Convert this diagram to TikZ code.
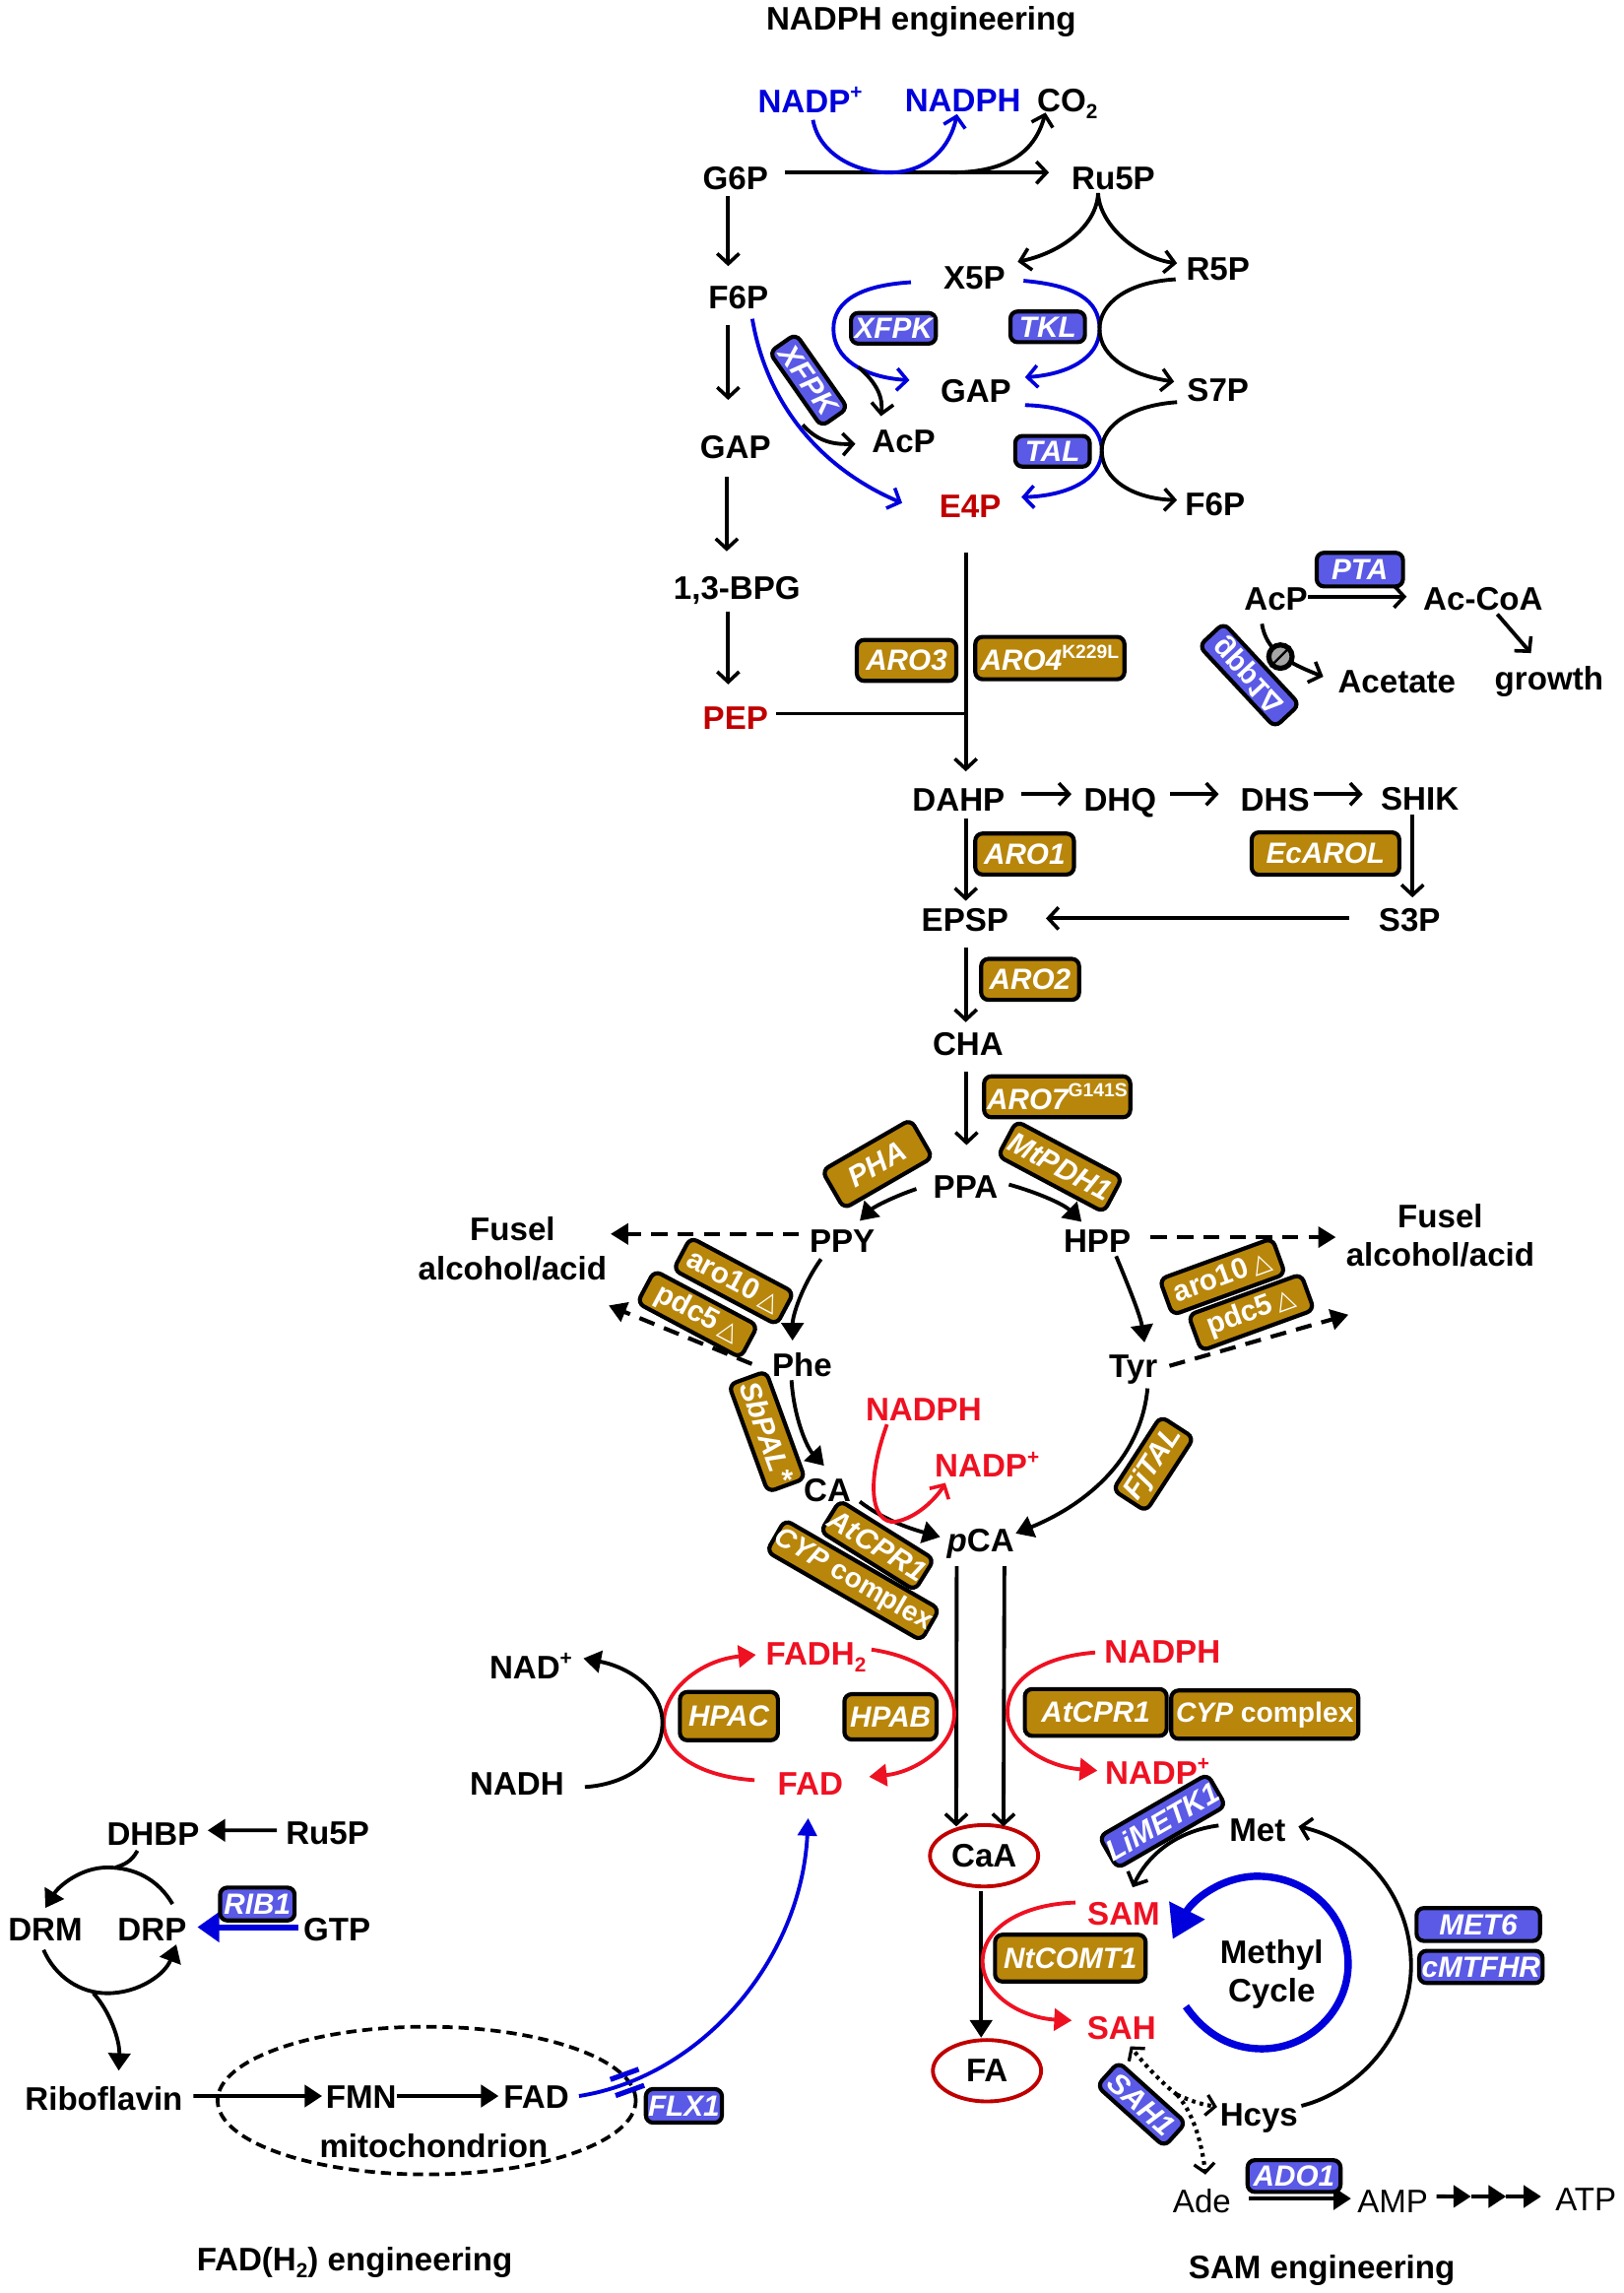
\documentclass[tikz,border=0pt]{standalone}
\usepackage{fontspec}
\setmainfont{Liberation Sans}
\newfontfamily\djvfont{DejaVu Sans}
\usetikzlibrary{arrows.meta,calc,shapes.geometric}
\definecolor{goldf}{HTML}{B8860B}
\definecolor{enzb}{HTML}{5A5AE6}
\definecolor{redc}{HTML}{EE1122}
\definecolor{dred}{HTML}{C00000}
\definecolor{bluc}{HTML}{0000DC}
\newcommand\supt[1]{\raisebox{0.42em}{\fontsize{14}{14}\selectfont #1}}
\newcommand\subt[1]{\raisebox{-0.22em}{\fontsize{14}{14}\selectfont #1}}
\newcommand\supe[1]{\raisebox{0.42em}{\fontsize{13}{13}\selectfont\upshape #1}}
\newcommand\tri{{\djvfont\mdseries\itshape\fontsize{17}{17}\selectfont △}}
\tikzset{
 lab/.style={font=\fontsize{22.3}{26.5}\selectfont\bfseries,inner sep=0pt,align=center},
 reg/.style={font=\fontsize{22.3}{26.5}\selectfont,inner sep=0pt},
 rlab/.style={lab,text=redc},
 dlab/.style={lab,text=dred},
 blab/.style={lab,text=bluc},
 enz/.style={draw=black,line width=2.8pt,rounded corners=5pt,text=white,inner sep=0pt,align=center,font=\fontsize{20}{22}\selectfont\bfseries\itshape},
 gold/.style={enz,fill=goldf},
 enzblue/.style={enz,fill=enzb},
 sz/.style 2 args={minimum width=#1,minimum height=#2},
 bk/.style={line width=2.6pt,draw=black},
 ar/.style={line width=2.6pt,draw=black,-{Straight Barb[length=7pt,width=15pt,line width=2.4pt]}},
 art/.style={line width=2.6pt,draw=black,-{Triangle[length=12pt,width=15pt]}},
 arb/.style={line width=2.6pt,draw=bluc,-{Straight Barb[length=7pt,width=15pt,line width=2.4pt]}},
 arr/.style={line width=2.6pt,draw=redc,-{Triangle[length=12pt,width=15pt]}},
 dash2/.style={line width=2.8pt,draw=black,dash pattern=on 11pt off 7pt,-{Triangle[length=12pt,width=14pt]}},
 dots/.style={line width=2.8pt,draw=black,dash pattern=on 2.5pt off 3pt,-{Straight Barb[length=6pt,width=14pt,line width=2.2pt]}},
}
\begin{document}
\begin{tikzpicture}[x=1pt,y=-1pt]
\useasboundingbox (0,0) rectangle (1110,1568);
\fill[white] (0,0) rectangle (1110,1568);
% compartments
\node[ellipse,draw=black,line width=2.5pt,dash pattern=on 7pt off 4pt,minimum width=286,minimum height=101,inner sep=0pt] (mito) at (291.8,1436.4) {};
% titles
\node[lab] (t1) at (630,14.5) {NADPH engineering};
\node[lab] (t2) at (242.5,1547) {FAD(H\subt{2}) engineering};
\node[lab] (t3) at (904,1552.6) {SAM engineering};
% metabolites
\node[blab] (nadpb) at (554,68.5) {NADP\supt{+}};
\node[blab] (nadphb) at (658.5,69) {NADPH};
\node[lab] (co2) at (730,71) {CO\subt{2}};
\node[lab] (g6p) at (503,122) {G6P};
\node[lab] (ru5p) at (761.4,122) {Ru5P};
\node[lab] (x5p) at (666.4,190.3) {X5P};
\node[lab] (r5p) at (833,184) {R5P};
\node[lab] (f6p) at (505,203.3) {F6P};
\node[lab] (gapb) at (667.4,267.6) {GAP};
\node[lab] (s7p) at (833,267) {S7P};
\node[lab] (gap) at (503,306) {GAP};
\node[lab] (acp) at (618,302) {AcP};
\node[dlab] (e4p) at (663.5,346) {E4P};
\node[lab] (f6pb) at (831,345) {F6P};
\node[lab] (bpg) at (504,403.5) {1,3-BPG};
\node[dlab] (pep) at (503,491) {PEP};
\node[lab] (acpb) at (872.6,410) {AcP};
\node[lab] (accoa) at (1014.3,409.3) {Ac-CoA};
\node[lab] (acet) at (955.3,466) {Acetate};
\node[lab] (growth) at (1059.4,466) {growth};
\node[lab] (dahp) at (655.6,547) {DAHP};
\node[lab] (dhq) at (766,549) {DHQ};
\node[lab] (dhs) at (872,547) {DHS};
\node[lab] (shik) at (971,546) {SHIK};
\node[lab] (epsp) at (660,629) {EPSP};
\node[lab] (s3p) at (964,629) {S3P};
\node[lab] (cha) at (662,714) {CHA};
\node[lab] (ppa) at (660.4,811.6) {PPA};
\node[lab] (ppy) at (576,849) {PPY};
\node[lab] (hpp) at (750.4,849) {HPP};
\node[lab] (fusl) at (350.5,854) {Fusel\\alcohol/acid};
\node[lab] (fusr) at (985,845) {Fusel\\alcohol/acid};
\node[lab] (phe) at (548.6,933.5) {Phe};
\node[lab] (tyr) at (775,936.5) {Tyr};
\node[rlab] (nadphc) at (631.7,963.6) {NADPH};
\node[rlab] (nadpc) at (675,1001.5) {NADP\supt{+}};
\node[lab] (ca) at (565.8,1019) {CA};
\node[lab] (pca) at (670.6,1055.5) {\textit{p}CA};
\node[rlab] (fadh2) at (558,1133.5) {FADH\subt{2}};
\node[rlab] (fadr) at (554.2,1219.6) {FAD};
\node[lab] (nad) at (363,1139.5) {NAD\supt{+}};
\node[lab] (nadh) at (353.6,1220) {NADH};
\node[rlab] (nadphd) at (795,1129.5) {NADPH};
\node[rlab] (nadpd) at (791.5,1211) {NADP\supt{+}};
\node[lab,ellipse,draw=dred,line width=2.6pt,minimum width=74,minimum height=42,inner sep=0pt] (caa) at (673,1269) {CaA};
\node[lab,ellipse,draw=dred,line width=2.6pt,minimum width=74,minimum height=42,inner sep=0pt] (fa) at (675,1416) {FA};
\node[lab] (met) at (860,1251.3) {Met};
\node[rlab] (sam) at (768.5,1309) {SAM};
\node[rlab] (sah) at (767,1386.6) {SAH};
\node[lab] (mc) at (869.7,1350) {Methyl\\Cycle};
\node[lab] (hcys) at (861,1448.2) {Hcys};
\node[reg] (ade) at (822,1505.4) {Ade};
\node[reg] (amp) at (952.5,1505.4) {AMP};
\node[reg] (atp) at (1084.6,1504) {ATP};
\node[lab] (dhbp) at (104.7,1254.2) {DHBP};
\node[lab] (ru5pb) at (224,1253.6) {Ru5P};
\node[lab] (drm) at (31,1319.5) {DRM};
\node[lab] (drp) at (104,1319.5) {DRP};
\node[lab] (gtp) at (230.5,1319.5) {GTP};
\node[lab] (ribo) at (71,1435.4) {Riboflavin};
\node[lab] (fmn) at (247,1434) {FMN};
\node[lab] (fadm) at (366.8,1434) {FAD};
\node[lab] (mitot) at (296.6,1467.3) {mitochondrion};
% junctions
\coordinate (co2j) at (650,118);
\coordinate (acpj) at (587,251);
\coordinate (acpk) at (549,290.5);
\coordinate (pepj) at (660.5,488);
\coordinate (dotj) at (805,1432.4);
\coordinate (atp1) at (1006,1502);
\coordinate (atp2) at (1030,1502);
\coordinate (drj) at (79,1277);
\coordinate (ribj) at (63.8,1363);
% top pathway
\draw[ar] ($(g6p)+(34,-4)$) -- ($(ru5p)+(-44,-4)$);
\draw[arb] ($(nadpb)+(2,13.5)$) .. controls (560,105) and (585,118) .. (608,118) .. controls (635,118) and (650,100) .. ($(nadphb)+(-4,9)$);
\draw[ar] (co2j) .. controls (690,118) and (708,103) .. ($(co2)+(-15,6)$);
\draw[ar] ($(g6p)+(-5,12)$) -- ($(f6p)+(-7,-21.3)$);
\draw[ar] ($(f6p)+(-7,19.3)$) -- ($(gap)+(-5,-32.5)$);
\draw[ar] ($(gap)+(-6,20)$) -- ($(bpg)+(-7,-26.5)$);
\draw[ar] ($(bpg)+(-6,14.5)$) -- ($(pep)+(-5,-23)$);
\draw[ar] ($(ru5p)+(-10.4,10)$) .. controls (750,155) and (725,173) .. ($(x5p)+(29.6,-11.3)$);
\draw[ar] ($(ru5p)+(-10.4,10)$) .. controls (752,155) and (780,177) .. ($(r5p)+(-28,-4)$);
\draw[arb] ($(x5p)+(-43.4,2.7)$) .. controls (590,195) and (570,205) .. (570,225) .. controls (570,245) and (590,258) .. ($(gapb)+(-45.4,-7.6)$);
\draw[ar] (acpj) .. controls (600,262) and (604,272) .. ($(acp)+(-15.5,-17.4)$);
\draw[arb] ($(x5p)+(33.6,1.7)$) .. controls (735,195) and (752,205) .. (752,225) .. controls (752,245) and (730,256) .. ($(gapb)+(33.6,-9.6)$);
\draw[ar] ($(r5p)+(-29,7)$) .. controls (770,193) and (752,208) .. (752,225) .. controls (752,245) and (775,257) .. ($(s7p)+(-30,-6)$);
\draw[arb] ($(gapb)+(33.6,9.4)$) .. controls (735,278) and (753.5,290) .. (753.5,308) .. controls (753.5,328) and (730,339) .. ($(e4p)+(35,-6)$);
\draw[ar] ($(s7p)+(-28,8)$) .. controls (775,277) and (753.5,290) .. (753.5,308) .. controls (753.5,328) and (775,341) .. ($(f6pb)+(-26,-3)$);
\draw[arb] ($(f6p)+(9.5,14.7)$) .. controls (525,280) and (565,322) .. ($(e4p)+(-46.5,-2)$);
\draw[ar] (acpk) .. controls (560,303) and (572,304) .. ($(acp)+(-33,1.5)$);
% shikimate
\draw[ar] ($(e4p)+(-3,32)$) -- ($(dahp)+(4.9,-19.5)$);
\draw[bk] ($(pep)+(28,-3)$) -- (pepj);
\draw[ar] ($(dahp)+(42.9,-4)$) -- ($(dhq)+(-33.2,-6)$);
\draw[ar] ($(dhq)+(34,-6)$) -- ($(dhs)+(-38.5,-4)$);
\draw[ar] ($(dhs)+(26.6,-4)$) -- ($(shik)+(-39,-3)$);
\draw[ar] ($(shik)+(-5,11)$) -- ($(s3p)+(2,-15.3)$);
\draw[ar] ($(s3p)+(-41.4,-1)$) -- ($(epsp)+(55.3,-1)$);
\draw[ar] ($(dahp)+(4.9,12.6)$) -- ($(epsp)+(0.5,-13)$);
\draw[ar] ($(epsp)+(0.5,19)$) -- ($(cha)+(-1.5,-15)$);
\draw[ar] ($(cha)+(-1,19)$) -- ($(ppa)+(0.6,-28.6)$);
% AcP side
\draw[ar] ($(acpb)+(21.9,-2)$) -- ($(accoa)+(-52.3,-1.3)$);
\draw[ar] ($(accoa)+(9.7,10.7)$) -- ($(growth)+(-12.4,-19.4)$);
\draw[ar] ($(acpb)+(-9.6,16.6)$) .. controls (866,445) and (880,453) .. ($(acet)+(-50.3,-3.3)$);
% aromatic branches
\draw[art] ($(ppa)+(-33.7,1.4)$) .. controls (612,818) and (598,825) .. ($(ppy)+(12,-14.2)$);
\draw[art] ($(ppa)+(29.6,-1.6)$) .. controls (708,815) and (727,823) .. ($(hpp)+(-10.7,-13.5)$);
\draw[dash2] ($(ppy)+(-29.6,-5.2)$) -- ($(fusl)+(67.1,-10.2)$);
\draw[dash2] ($(hpp)+(36.6,-3)$) -- ($(fusr)+(-71.4,1)$);
\draw[dash2] ($(phe)+(-34.4,-0.8)$) -- ($(fusl)+(65.8,38.7)$);
\draw[dash2] ($(tyr)+(24.8,-2.5)$) -- ($(fusr)+(-62.8,54)$);
\draw[art] ($(ppy)+(-14.5,12)$) .. controls (548,880) and (542,900) .. ($(phe)+(-6.6,-16.8)$);
\draw[art] ($(hpp)+(12.9,10)$) .. controls (772,880) and (780,900) .. ($(tyr)+(7.7,-18.5)$);
\draw[art] ($(phe)+(-7.3,10.3)$) .. controls (543,970) and (552,990) .. ($(ca)+(-2.2,-16.7)$);
\draw[art] ($(tyr)+(9.8,12.9)$) .. controls (780,1000) and (740,1030) .. ($(pca)+(24,-6.9)$);
\draw[art] ($(ca)+(22.2,7.8)$) .. controls (605,1040) and (625,1046) .. ($(pca)+(-27.6,-4.5)$);
\draw[line width=2.6pt,draw=redc,-{Straight Barb[length=7pt,width=15pt,line width=2.4pt]}] ($(nadphc)+(-25.1,10.4)$) .. controls (590,1020) and (598,1045) .. (615,1040) .. controls (630,1036) and (642,1022) .. ($(nadpc)+(-28.5,12.5)$);
\draw[ar] ($(pca)+(-16.3,15.5)$) -- ($(caa)+(-19,-20)$);
\draw[ar] ($(pca)+(16.3,15.5)$) -- ($(caa)+(13.3,-20)$);
\draw[art] ($(caa)+(-2,24)$) -- ($(fa)+(-4,-22.6)$);
% cofactor cycles
\draw[arr] ($(nadphd)+(-46,0.5)$) .. controls (710,1133) and (689,1150) .. (689,1171) .. controls (689,1192) and (715,1208) .. ($(nadpd)+(-41,-0.2)$);
\draw[arr] ($(fadh2)+(38,-5.5)$) .. controls (630,1133) and (652.6,1150) .. (652.6,1172) .. controls (652.6,1195) and (625,1212) .. ($(fadr)+(40.2,-4.6)$);
\draw[arr] ($(fadr)+(-38.2,-2.3)$) .. controls (480,1215) and (454,1200) .. (454,1178) .. controls (454,1155) and (480,1135) .. ($(fadh2)+(-41,-1.9)$);
\draw[art] ($(nadh)+(46.4,2)$) .. controls (430,1220) and (453,1203) .. (453,1178) .. controls (453,1155) and (430,1140) .. ($(nad)+(36,-5.5)$);
\draw[arr] ($(sam)+(-33,-8)$) .. controls (700,1302) and (672,1318) .. (672,1341) .. controls (672,1365) and (700,1380) .. ($(sah)+(-34,-5)$);
% methyl cycle
\draw[ar] ($(met)+(-26.6,-3)$) .. controls (805,1252) and (785,1268) .. ($(sam)+(6.1,-18.4)$);
\draw[ar] ($(hcys)+(29,-8.2)$) .. controls (930,1430) and (965,1390) .. (965,1344) .. controls (965,1295) and (930,1258) .. ($(met)+(28,-2.3)$);
\draw[line width=5pt,draw=bluc,-{Triangle[length=22pt,width=26pt]}] ($(sah)+(44,-14.6)$) .. controls (825,1392) and (843,1401) .. (863,1401) .. controls (895,1401) and (922,1375) .. (922,1343) .. controls (922,1310) and (895,1283) .. (860,1283) .. controls (835,1283) and (815,1300) .. ($(sam)+(33.5,17)$);
\draw[dots] (dotj) .. controls (795,1425) and (783,1412) .. ($(sah)+(6,12.7)$);
\draw[dots] (dotj) .. controls (815,1437) and (822,1439) .. ($(hcys)+(-28.6,-7.5)$);
\draw[dots] (dotj) .. controls (816,1445) and (822,1465) .. ($(ade)+(2.4,-18.4)$);
\draw[art] ($(ade)+(32,-2)$) -- ($(amp)+(-28.5,-2)$);
\draw[art] ($(amp)+(29.9,-3.5)$) -- (atp1);
\draw[art] (atp1) -- (atp2);
\draw[art] (atp2) -- ($(atp)+(-30.6,-2)$);
% riboflavin
\draw[art] ($(ru5pb)+(-34.6,-2)$) -- ($(dhbp)+(37.3,-2.6)$);
\draw[line width=4pt,draw=bluc,-{Triangle[length=15pt,width=20pt]}] ($(gtp)+(-26.5,-1.7)$) -- ($(drp)+(31,-1.7)$);
\draw[art] ($(drp)+(14,-17.5)$) .. controls (108,1285) and (92,1277) .. (73.4,1277) .. controls (55,1277) and (40,1290) .. ($(drm)+(0,-14.8)$);
\draw[bk] ($(dhbp)+(-10.7,11.3)$) .. controls (90,1273) and (85,1275) .. (drj);
\draw[art] ($(drm)+(-1.2,13.9)$) .. controls (38,1352) and (55,1363) .. (73.4,1363) .. controls (95,1363) and (113,1350) .. ($(drp)+(16.6,10.1)$);
\draw[art] (ribj) .. controls (75,1375) and (82,1395) .. ($(ribo)+(10.2,-19.4)$);
\draw[art] ($(ribo)+(61.2,-2.1)$) -- ($(fmn)+(-26.7,-0.7)$);
\draw[art] ($(fmn)+(24.3,-0.7)$) -- ($(fadm)+(-25.8,-0.7)$);
\draw[line width=2.6pt,draw=bluc,-{Triangle[length=12pt,width=13pt]}] ($(fadm)+(29.2,-0.7)$) .. controls (480,1420) and (548,1340) .. ($(fadr)+(-1.5,23.7)$);
\draw[line width=3.5pt,draw=bluc] (417.4,1422) -- (436.8,1415);
\draw[line width=3.5pt,draw=bluc] (421,1433) -- (440.6,1426);
% enzymes gold
\node[gold,sz={68}{28}] (earo3) at (620,451.6) {ARO3};
\node[gold,sz={102}{29}] (earo4) at (718,450) {ARO4\supe{K229L}};
\node[gold,sz={67.5}{28}] (earo1) at (700.7,584) {ARO1};
\node[gold,sz={101}{29}] (eecarol) at (906.5,583.7) {EcAROL};
\node[gold,sz={67}{28}] (earo2) at (704.5,669.7) {ARO2};
\node[gold,sz={100}{28}] (earo7) at (723,750) {ARO7\supe{G141S}};
\node[gold,sz={70}{30},rotate=30] (epha) at (600,796) {PHA};
\node[gold,sz={82}{27},rotate=-28] (emtp) at (725,797.8) {MtPDH1};
\node[gold,sz={80}{25},rotate=-28,font=\fontsize{20}{22}\selectfont\bfseries] (earol) at (501.7,876) {aro10\,\tri};
\node[gold,sz={80}{25},rotate=-28,font=\fontsize{20}{22}\selectfont\bfseries] (epdcl) at (477,898.7) {pdc5\,\tri};
\node[gold,sz={82}{26},rotate=20,font=\fontsize{20}{22}\selectfont\bfseries] (earor) at (836,873) {aro10\,\tri};
\node[gold,sz={82}{26},rotate=20,font=\fontsize{20}{22}\selectfont\bfseries] (epdcr) at (855.7,897.5) {pdc5\,\tri};
\node[gold,sz={78}{27},rotate=-70] (esbp) at (524.5,979) {SbPAL*};
\node[gold,sz={60}{27},rotate=57] (efjt) at (788.8,1001) {FjTAL};
\node[gold,sz={76}{25},rotate=-32] (eatcr) at (600,1056.8) {AtCPR1};
\node[gold,sz={122}{25},rotate=-30,font=\fontsize{19}{21}\selectfont\bfseries] (ecypr) at (583.4,1080.6) {\textit{CYP} complex};
\node[gold,sz={67}{33}] (ehpac) at (498.5,1173.5) {HPAC};
\node[gold,sz={63}{31}] (ehpab) at (609,1174) {HPAB};
\node[gold,sz={97}{32}] (eatc) at (749.4,1171) {AtCPR1};
\node[gold,sz={128}{33},font=\fontsize{19}{21}\selectfont\bfseries] (ecyp) at (865,1172.5) {\textit{CYP} complex};
\node[gold,sz={103}{32}] (entc) at (732,1339) {NtCOMT1};
% enzymes blue
\node[enzblue,sz={58}{21}] (exf) at (611,224.5) {XFPK};
\node[enzblue,sz={51}{21}] (etkl) at (716.5,223.5) {TKL};
\node[enzblue,sz={51}{21}] (etal) at (719.8,308.6) {TAL};
\node[enzblue,sz={62}{22},rotate=-55] (exfr) at (553,260) {XFPK};
\node[enzblue,sz={59}{23}] (epta) at (930,389.5) {PTA};
\node[enzblue,sz={76}{23},rotate=-47,font=\fontsize{20}{22}\selectfont\bfseries] (egpp) at (854.4,461.7) {\scalebox{1}[-1]{gpp1Δ}};
\node[enzblue,sz={82}{25},rotate=30] (elim) at (795,1245.4) {LiMETK1};
\node[enzblue,sz={84.4}{22.5}] (emet) at (1011,1316) {MET6};
\node[enzblue,sz={84.4}{22}] (ecmt) at (1012.8,1345) {cMTFHR};
\node[enzblue,sz={62}{22},rotate=-42] (esah) at (780.6,1439) {SAH1};
\node[enzblue,sz={63.6}{21.7}] (eado) at (885,1488) {ADO1};
\node[enzblue,sz={52}{23}] (eflx) at (467.7,1440) {FLX1};
\node[enzblue,sz={51}{22.5}] (erib) at (176,1302) {RIB1};
% inhibition mark
\node[circle,draw=black,line width=3.5pt,fill=black!35,minimum size=16,inner sep=0pt] (inh) at (875.7,449) {};
\draw[black,line width=1.5pt] (inh.north east) -- (inh.south west);
\end{tikzpicture}
\end{document}
